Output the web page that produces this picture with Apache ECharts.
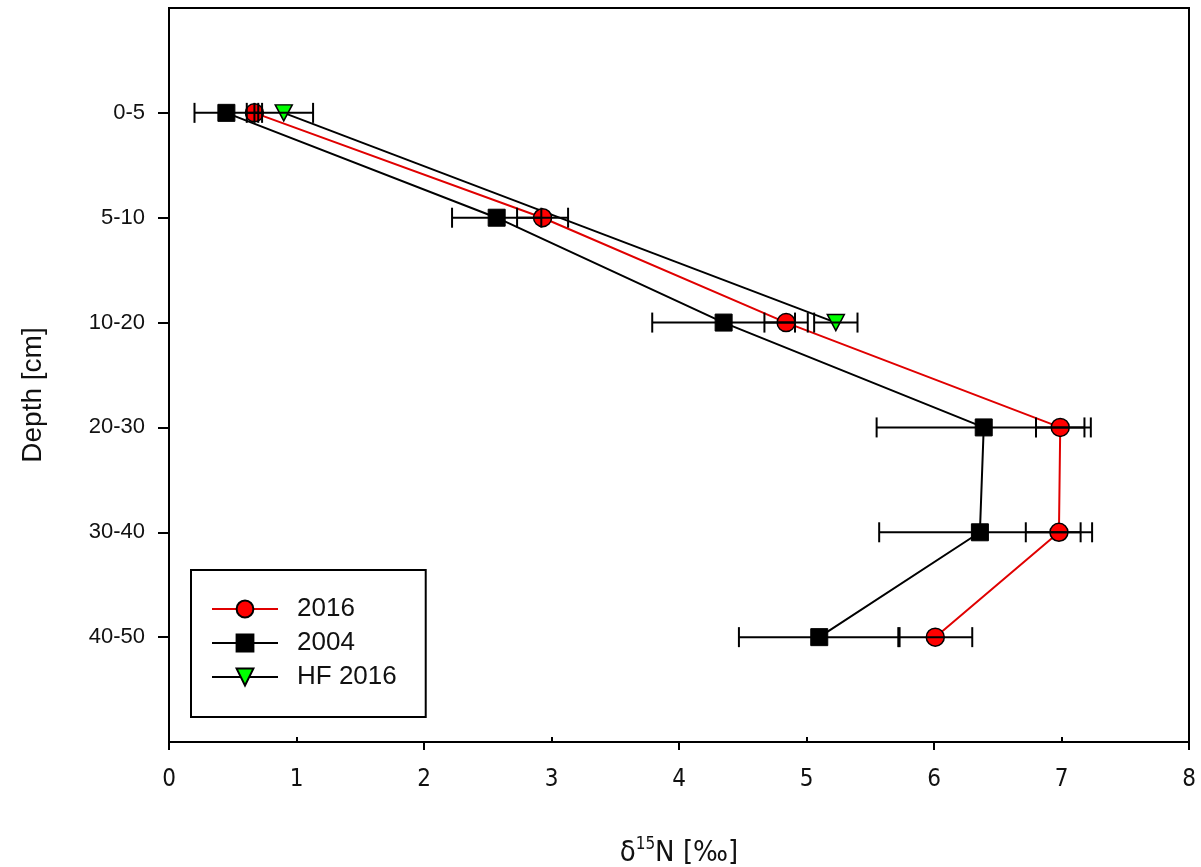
<!DOCTYPE html>
<html>
<head>
<meta charset="utf-8">
<script src="https://cdn.jsdelivr.net/npm/echarts@6/dist/echarts.min.js"></script>
<style>
  html, body { margin: 0; padding: 0; background: #fff; }
  #chart { width: 1201px; height: 867px; }
</style>
</head>
<body>
<div id="chart"></div>
<script>
// depth classes, top to bottom
var depths = ['0-5', '5-10', '10-20', '20-30', '30-40', '40-50'];
var xTicks = [0, 1, 2, 3, 4, 5, 6, 7, 8];

// delta 15N means and error (half width)
var n2016 = [0.67, 2.93, 4.84, 6.99, 6.98, 6.01];
var e2016 = [0.06, 0.20, 0.17, 0.19, 0.26, 0.29];
var n2004 = [0.45, 2.57, 4.35, 6.39, 6.36, 5.10];
var e2004 = [0.25, 0.35, 0.56, 0.84, 0.79, 0.63];
var hfDepths = ['0-5', '10-20'];
var nHF = [0.90, 5.23];
var eHF = [0.23, 0.17];

function pos(d) { return depths.indexOf(d) + 1; }

function pts(vals, ds) {
  var out = [];
  for (var i = 0; i < vals.length; i++) out.push([vals[i], pos(ds[i])]);
  return out;
}
function errPts(vals, errs, ds) {
  var out = [];
  for (var i = 0; i < vals.length; i++) out.push([vals[i], pos(ds[i]), errs[i]]);
  return out;
}

// horizontal error bar with caps
function errBar(params, api) {
  var x = api.value(0), y = api.value(1), e = api.value(2);
  var l = api.coord([x - e, y]);
  var r = api.coord([x + e, y]);
  var h = 10;
  var st = { stroke: '#000', lineWidth: 2 };
  return {
    type: 'group',
    children: [
      { type: 'line', shape: { x1: l[0], y1: l[1], x2: r[0], y2: r[1] }, style: st },
      { type: 'line', shape: { x1: l[0], y1: l[1] - h, x2: l[0], y2: l[1] + h }, style: st },
      { type: 'line', shape: { x1: r[0], y1: r[1] - h, x2: r[0], y2: r[1] + h }, style: st }
    ]
  };
}

var chart = echarts.init(document.getElementById('chart'));
var font = 'Liberation Sans, Arial, sans-serif';
var narrow = 'DejaVu Sans Condensed, Liberation Sans Narrow, Liberation Sans, sans-serif';
var gridH = 867 - 8 - 125;

option = {
  animation: false,
  grid: {
    left: 169, right: 12, top: 8, bottom: 125,
    outerBoundsMode: 'none', containLabel: false,
    show: true, borderColor: '#000', borderWidth: 2, backgroundColor: 'transparent'
  },
  legend: {
    orient: 'vertical',
    left: 191, top: 570,
    padding: [26, 29, 27, 20],
    borderColor: '#000', borderWidth: 2,
    itemWidth: 66, itemHeight: 21, itemGap: 8,
    textStyle: { fontFamily: font, fontSize: 26, color: '#111', padding: [0, 0, 0, 14] },
    data: ['2016', '2004', 'HF 2016']
  },
  xAxis: [{
    type: 'value', min: 0, max: 8, interval: 1, position: 'bottom',
    name: '{d|δ}{s|15}{d|N [‰]}',
    nameLocation: 'middle', nameGap: 94,
    nameTextStyle: {
      rich: {
        d: { fontFamily: narrow, fontSize: 29, color: '#111', lineHeight: 34 },
        s: { fontFamily: narrow, fontSize: 17, color: '#111', verticalAlign: 'top', lineHeight: 34 }
      }
    },
    axisLine: { show: true, onZero: false, lineStyle: { color: '#000', width: 2 } },
    axisTick: { show: true, length: 8, customValues: [0, 2, 4, 6, 8], lineStyle: { color: '#000', width: 2 } },
    axisLabel: {
      margin: 26, fontFamily: narrow, fontSize: 24, color: '#111',
      formatter: function (v) { return xTicks.indexOf(v) >= 0 ? String(v) : ''; }
    },
    splitLine: { show: false }
  }, {
    // short inward ticks at odd values, sitting on the bottom line
    type: 'value', min: 0, max: 8, interval: 1, position: 'top', offset: -gridH,
    axisLine: { show: false, onZero: false },
    axisTick: { show: true, length: 5, customValues: [1, 3, 5, 7], lineStyle: { color: '#000', width: 2 } },
    axisLabel: { show: false },
    splitLine: { show: false }
  }],
  yAxis: {
    type: 'value', inverse: true, min: 0, max: 7,
    name: 'Depth [cm]', nameLocation: 'middle', nameGap: 122,
    nameTextStyle: { fontFamily: font, fontSize: 28, color: '#111', padding: [0, 40, 0, 0] },
    axisLine: { show: true, onZero: false, lineStyle: { color: '#000', width: 2 } },
    axisTick: { show: true, length: 11, customValues: [1, 2, 3, 4, 5, 6], lineStyle: { color: '#000', width: 2 } },
    axisLabel: {
      margin: 24, fontFamily: font, fontSize: 22, color: '#111',
      customValues: [1, 2, 3, 4, 5, 6],
      formatter: function (v) { return depths[v - 1] || ''; }
    },
    splitLine: { show: false }
  },
  series: [
    {
      name: '2016', type: 'line', data: pts(n2016, depths), z: 2,
      symbol: 'circle', symbolSize: 18,
      lineStyle: { color: '#e00000', width: 2 },
      itemStyle: { color: '#ff0000', borderColor: '#000', borderWidth: 1.5 }
    },
    {
      name: '2004', type: 'line', data: pts(n2004, depths), z: 2,
      symbol: 'rect', symbolSize: 17,
      lineStyle: { color: '#000', width: 2 },
      itemStyle: { color: '#000', borderColor: '#000', borderWidth: 1 }
    },
    {
      name: 'HF 2016', type: 'line', data: pts(nHF, hfDepths), z: 2,
      symbol: 'path://M0,0 L10,0 L5,9 Z', symbolSize: [17, 16],
      lineStyle: { color: '#000', width: 2 },
      itemStyle: { color: '#00ff00', borderColor: '#000', borderWidth: 1.5 }
    },
    { type: 'custom', renderItem: errBar, data: errPts(n2016, e2016, depths), z: 4, silent: true },
    { type: 'custom', renderItem: errBar, data: errPts(n2004, e2004, depths), z: 4, silent: true },
    { type: 'custom', renderItem: errBar, data: errPts(nHF, eHF, hfDepths), z: 4, silent: true }
  ]
};
chart.setOption(option);
</script>
</body>
</html>
